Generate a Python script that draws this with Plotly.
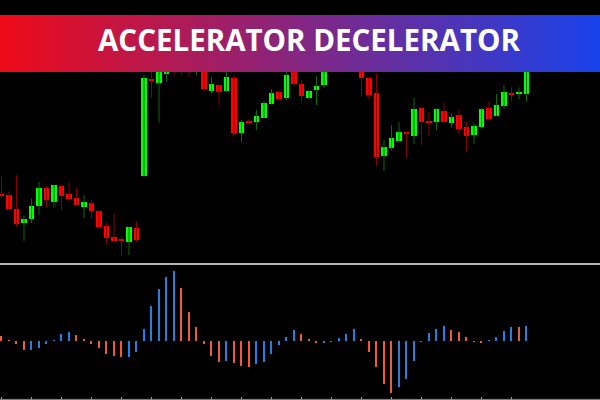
import plotly.graph_objects as go

# ---------------- data ----------------
# candle index (one bar per period)
idx = list(range(71))

opens = [68.7, 68, 54, 39.7, 44, 57.3, 75, 61.3, 77, 69, 65, 56.3, 60, 52, 37, 25.7, 23, 21.3, 35,
         87, 184, 180, 189, 213, 208, 205, 193, 198, 172, 178, 171.7, 185, 130, 142, 141, 145.3, 159,
         171, 164.7, 193, 179, 164.7, 173, 178, 203, 228, 208, 223, 198, 185, 170, 107.3, 114.7,
         122.3, 131, 127.3, 155, 142, 141, 151.7, 140.3, 148, 136.3, 128, 135.7, 155, 147.3, 157,
         170.3, 169.3, 168.7]
highs = [87, 72, 88, 47.3, 64.3, 81, 77.3, 78, 77.5, 80.3, 75, 68, 63, 52.5, 40.3, 49.3, 27, 36, 42,
         188, 193, 198, 208, 218, 213, 211, 213, 203, 186, 178.5, 195, 187, 143, 144, 153, 162, 174,
         172, 191, 197, 183, 173, 187, 203, 228, 233, 233, 228, 203, 186, 189, 123, 138, 141, 131.5,
         165.3, 155.5, 151.3, 154.7, 160.3, 149.7, 153, 141.3, 139.7, 154.7, 161.3, 169, 178, 175.7,
         175.7, 208]
lows = [65.3, 53.5, 36.3, 22, 40, 48.3, 56, 55.3, 53, 63.5, 57.5, 45, 44, 36, 19.3, 21.5, 7, 8, 21,
        86.5, 165.3, 140.3, 181.3, 188, 188, 186.3, 188, 173, 169.3, 158, 171, 126.3, 121, 139, 133,
        145, 158.5, 163, 163, 177, 161.3, 164, 158, 175, 198, 208, 203, 197, 166.3, 163, 97, 92,
        112.3, 121.3, 105.7, 119, 118, 127, 133, 140.5, 135.3, 129, 111.3, 119, 134.7, 143.5, 147,
        154, 161.3, 164, 161.3]
closes = [67.3, 54, 39, 44, 56.7, 75.3, 62.7, 77.7, 67.3, 64, 58, 61, 52, 36.3, 24.7, 22, 22, 35.7, 23,
          185, 182, 193, 203, 201, 198, 195, 208, 174.3, 179, 171, 186, 129.7, 141.3, 140.3, 147.3,
          160, 170.3, 164, 188, 179, 167, 172, 177, 198, 223, 213, 228, 203, 185.3, 168.3, 106.3,
          115.7, 125.3, 130.7, 129, 153.7, 141, 140.3, 153.7, 141, 146.3, 134, 127, 137, 153.7, 144,
          158, 171, 168.3, 170.3, 203]

# Accelerator/Decelerator oscillator values and bar direction (1 = rising/blue, 0 = falling/red)
ac_values = [5, 1, -2.7, -9.3, -9, -7.3, -3, 0.7, 6.7, 8.7, 6, 1.7, -3, -7, -12.7, -14.7, -16, -15.7,
             -11, 12, 35, 52, 64, 70, 52.7, 29, 14, -2.7, -14.7, -20.7, -20, -22, -25, -26, -23, -21,
             -13, -4, 4, 11, 7.3, 1.7, -2, -1.3, -1, 3.3, 7, 12, 2, -11, -26, -43, -52.3, -45.7, -38,
             -20, -0.7, 8, 12, 15, 11, 8.7, 3.7, -1, -1.3, 1, 4, 10, 14, 13.7, 15]
ac_rising = [0, 0, 0, 0, 1, 1, 1, 1, 1, 1, 0, 0, 0, 0, 0, 0, 0, 1, 1, 1, 1, 1, 1, 1, 0, 0, 0, 0, 0, 0,
             1, 0, 0, 0, 1, 1, 1, 1, 1, 1, 0, 0, 0, 1, 1, 1, 1, 1, 0, 0, 0, 0, 0, 1, 1, 1, 1, 1, 1, 1,
             0, 0, 0, 0, 0, 1, 1, 1, 1, 0, 1]

title_text = "ACCELERATOR DECELERATOR"

# ---------------- styling ----------------
BULL = "#00ff00"
BEAR = "#ff0000"
BULL_WICK = "#0b6b0b"
BEAR_WICK = "#8a0000"
AC_UP = "#1f80e6"
AC_DN = "#ee5a3c"

fig = go.Figure()

# wicks
for want_bull, col in [(True, BULL_WICK), (False, BEAR_WICK)]:
    wx, wy = [], []
    for i, o, h, l, c in zip(idx, opens, highs, lows, closes):
        if (c >= o) == want_bull:
            wx += [i, i, None]
            wy += [l, h, None]
    fig.add_trace(go.Scatter(x=wx, y=wy, mode="lines", line=dict(color=col, width=1),
                             hoverinfo="skip", showlegend=False, xaxis="x", yaxis="y"))

# bodies
body_base = [min(o, c) for o, c in zip(opens, closes)]
body_len = [max(abs(c - o), 1.2) for o, c in zip(opens, closes)]
body_col = [BULL if c >= o else BEAR for o, c in zip(opens, closes)]
fig.add_trace(go.Bar(x=idx, y=body_len, base=body_base, width=0.75,
                     marker=dict(color=body_col, line=dict(width=0)),
                     showlegend=False, xaxis="x", yaxis="y"))

# oscillator
fig.add_trace(go.Bar(x=idx, y=ac_values, width=0.22,
                     marker=dict(color=[AC_UP if r else AC_DN for r in ac_rising], line=dict(width=0)),
                     showlegend=False, xaxis="x2", yaxis="y2"))

# ---------------- banner (gradient) ----------------
shapes = []
N = 150
c0 = (238, 10, 24)
c1 = (26, 66, 234)
for k in range(N):
    t = k / (N - 1)
    r = round(c0[0] + (c1[0] - c0[0]) * t)
    g = round(c0[1] + (c1[1] - c0[1]) * t)
    b = round(c0[2] + (c1[2] - c0[2]) * t)
    shapes.append(dict(type="rect", xref="paper", yref="paper",
                       x0=k / N, x1=(k + 1) / N + 0.002,
                       y0=1 - 72 / 400, y1=1 - 15 / 400,
                       fillcolor=f"rgb({r},{g},{b})", line=dict(width=0), layer="above"))

# separator line between panels
shapes.append(dict(type="line", xref="paper", yref="paper", x0=0, x1=1,
                   y0=1 - 264 / 400, y1=1 - 264 / 400,
                   line=dict(color="#b4b4b4", width=2), layer="above"))
# bottom frame line
shapes.append(dict(type="line", xref="paper", yref="paper", x0=0, x1=1,
                   y0=0.6 / 400, y1=0.6 / 400,
                   line=dict(color="#8c8c8c", width=1), layer="above"))

xr = [-0.2, 79.8]
fig.update_layout(
    width=600, height=400,
    margin=dict(l=0, r=0, t=0, b=0),
    paper_bgcolor="#000000", plot_bgcolor="#000000",
    bargap=0, barmode="overlay",
    showlegend=False,
    shapes=shapes,
    xaxis=dict(domain=[0, 1], range=xr, anchor="y", visible=False, fixedrange=True),
    yaxis=dict(domain=[1 - 263 / 400, 1], range=[0, 263], visible=False, fixedrange=True),
    xaxis2=dict(domain=[0, 1], range=xr, anchor="y2", showgrid=False, zeroline=False,
                showticklabels=False, showline=True, linecolor="#9a9a9a", linewidth=2,
                ticks="inside", ticklen=3, tickcolor="#9a9a9a",
                tickvals=list(range(0, 71, 4)), fixedrange=True),
    yaxis2=dict(domain=[0, 135 / 400], range=[-59, 76], visible=False, fixedrange=True),
    annotations=[dict(text=title_text, xref="paper", yref="paper", x=308.5 / 600, y=1 - 40 / 400,
                      xanchor="center", yanchor="middle", showarrow=False,
                      font=dict(family="Open Sans", size=29.5, color="#ffffff", weight=700))],
)

fig.write_html("out.html", config={"displayModeBar": False},
               post_script="document.body.style.margin='0';document.body.style.padding='0';"
                           "document.body.style.background='#000';")
